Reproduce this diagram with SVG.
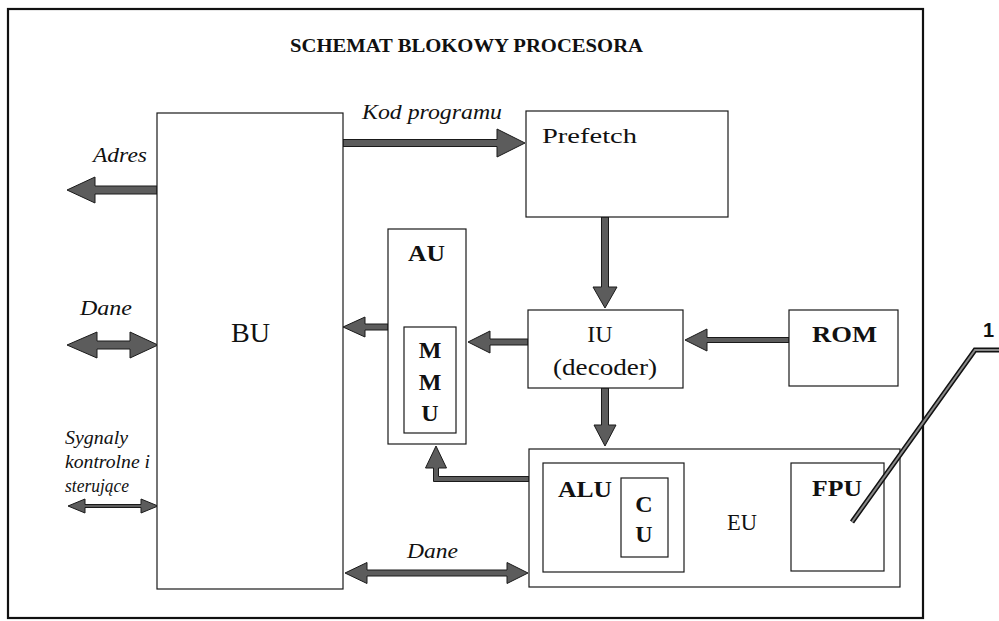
<svg xmlns="http://www.w3.org/2000/svg" width="999" height="621" viewBox="0 0 999 621">
<style>
.box{fill:#fff;stroke:#1a1a1a;stroke-width:1.2}
.arr{fill:#5c5c5c;stroke:#1a1a1a;stroke-width:1;stroke-linejoin:miter}
.t{font-family:"Liberation Serif","Times New Roman","DejaVu Serif",serif;fill:#111}
.b{font-weight:bold}
.i{font-style:italic}
</style>
<rect width="999" height="621" fill="#fff"/>
<rect x="8" y="9" width="915" height="609" fill="none" stroke="#111" stroke-width="2.2"/>
<text class="t b" x="290" y="52" font-size="18" textLength="353" lengthAdjust="spacingAndGlyphs">SCHEMAT BLOKOWY PROCESORA</text>

<g id="connectors">
  <polygon class="arr" points="157,186 95,186 95,177 67,190 95,203 95,194 157,194"/>
  <polygon class="arr" points="343,139.5 497,139.5 497,129 525,143 497,157 497,146.5 343,146.5"/>
  <polygon class="arr" points="601.5,217 601.5,287 593,287 605,308 617,287 608.5,287 608.5,217"/>
  <polygon class="arr" points="789,337.5 707,337.5 707,329 685,340 707,351 707,342.5 789,342.5"/>
  <polygon class="arr" points="528,339 490,339 490,331 468,342 490,353 490,345 528,345"/>
  <polygon class="arr" points="388,324 365,324 365,317 343,327 365,337 365,330 388,330"/>
  <polygon class="arr" points="67,345 97,332 97,341 130,341 130,332 158,345 130,358 130,349 97,349 97,358"/>
  <polygon class="arr" points="68,506 85,499 85,504.5 141,504.5 141,499 158,506 141,513 141,507.5 85,507.5 85,513"/>
  <polygon class="arr" points="601.5,388 601.5,425 594,425 605,446 616,425 608.5,425 608.5,388"/>
  <polygon class="arr" points="529,476.5 438.5,476.5 438.5,468 446.5,468 436,446 425.5,468 433.5,468 433.5,481.5 529,481.5"/>
  <polygon class="arr" points="345,573 367,562.5 367,570 507,570 507,562.5 528,573 507,583.5 507,576 367,576 367,583.5"/>
</g>

<g id="labels">
  <text class="t i" x="93" y="162" font-size="21" textLength="54" lengthAdjust="spacingAndGlyphs">Adres</text>
  <text class="t i" x="362" y="119" font-size="21" textLength="140" lengthAdjust="spacingAndGlyphs">Kod programu</text>
  <text class="t i" x="80" y="315" font-size="21" textLength="52" lengthAdjust="spacingAndGlyphs">Dane</text>
  <text class="t i" x="407" y="558" font-size="21" textLength="51" lengthAdjust="spacingAndGlyphs">Dane</text>
  <text class="t i" x="65" y="444" font-size="19" textLength="63" lengthAdjust="spacingAndGlyphs">Sygnaly</text>
  <text class="t i" x="65" y="468" font-size="19" textLength="85" lengthAdjust="spacingAndGlyphs">kontrolne i</text>
  <text class="t i" x="65" y="492" font-size="19" textLength="64" lengthAdjust="spacingAndGlyphs">sterujące</text>
  <text x="983" y="337" font-family="Liberation Sans,Arial,sans-serif" font-weight="bold" font-size="20" fill="#111">1</text>
</g>

<g id="BU">
  <rect class="box" x="157" y="113" width="186" height="476"/>
  <text class="t" x="231" y="342" font-size="28" textLength="39" lengthAdjust="spacingAndGlyphs">BU</text>
</g>
<g id="Prefetch">
  <rect class="box" x="526" y="111" width="202" height="106"/>
  <text class="t" x="542" y="143" font-size="22" textLength="95" lengthAdjust="spacingAndGlyphs">Prefetch</text>
</g>
<g id="AU">
  <rect class="box" x="388" y="229" width="78" height="215"/>
  <text class="t b" x="408" y="261" font-size="24" textLength="37" lengthAdjust="spacingAndGlyphs">AU</text>
</g>
<g id="MMU">
  <rect class="box" x="404" y="327" width="52" height="106"/>
  <text class="t b" x="430" y="358" font-size="24" text-anchor="middle">M</text>
  <text class="t b" x="430" y="390" font-size="24" text-anchor="middle">M</text>
  <text class="t b" x="430" y="421" font-size="24" text-anchor="middle">U</text>
</g>
<g id="IU">
  <rect class="box" x="528" y="310" width="155" height="78"/>
  <text class="t" x="600" y="342" font-size="24" text-anchor="middle">IU</text>
  <text class="t" x="553" y="375" font-size="24" textLength="104" lengthAdjust="spacingAndGlyphs">(decoder)</text>
</g>
<g id="ROM">
  <rect class="box" x="789" y="310" width="109" height="76"/>
  <text class="t b" x="812" y="342" font-size="24" textLength="65" lengthAdjust="spacingAndGlyphs">ROM</text>
</g>
<g id="EU">
  <rect class="box" x="529" y="449" width="371" height="138"/>
  <text class="t" x="727" y="530" font-size="23" textLength="30" lengthAdjust="spacingAndGlyphs">EU</text>
</g>
<g id="ALU">
  <rect class="box" x="543" y="463" width="141" height="109"/>
  <text class="t b" x="558" y="497" font-size="24" textLength="54" lengthAdjust="spacingAndGlyphs">ALU</text>
</g>
<g id="CU">
  <rect class="box" x="621" y="478" width="47" height="79"/>
  <text class="t b" x="644" y="512" font-size="24" text-anchor="middle">C</text>
  <text class="t b" x="644" y="542" font-size="24" text-anchor="middle">U</text>
</g>
<g id="FPU">
  <rect class="box" x="791" y="463" width="93" height="108"/>
  <text class="t b" x="812" y="496" font-size="24" textLength="50" lengthAdjust="spacingAndGlyphs">FPU</text>
</g>
<g id="callout">
  <polyline points="999,350 975,350 852,522" fill="none" stroke="#111" stroke-width="5"/>
  <polyline points="999,350 975,350 852,522" fill="none" stroke="#888" stroke-width="2"/>
</g>
</svg>
